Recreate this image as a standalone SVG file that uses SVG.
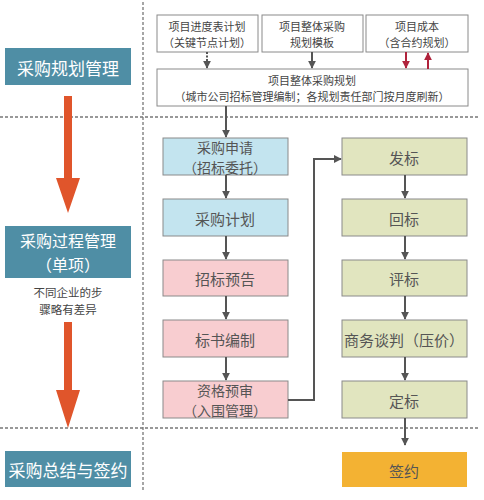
<svg xmlns="http://www.w3.org/2000/svg" width="484" height="500" viewBox="0 0 484 500">
<defs>
<style>
text{font-family:"Noto Sans CJK SC","Noto Sans",sans-serif;text-anchor:middle;dominant-baseline:central}
.sec rect{fill:#4f8ea5}
.sec text{fill:#fff;font-size:17px}
.top rect{fill:#fff;stroke:#8a8a8a;stroke-width:1}
.top text{fill:#444;font-size:11px}
.n rect{stroke:#8a8a8a;stroke-width:1}
.n text{fill:#555;font-size:15px}
.n text.s{font-size:14px}
.blue rect{fill:#c3e4ef}
.pink rect{fill:#f8cdd0}
.olive rect{fill:#e1e5bf}
.orange rect{fill:#f3b233;stroke:none}
.c line,.c polyline{stroke:#555;stroke-width:2;fill:none}
.dash{stroke:#777;stroke-width:1.3;stroke-dasharray:3,2;fill:none}
</style>
<marker id="ah" viewBox="0 0 10 10" refX="9" refY="5" markerWidth="4" markerHeight="4" orient="auto"><path d="M0,0L10,5L0,10z" fill="#555"/></marker>
<marker id="ahr" viewBox="0 0 10 10" refX="9" refY="5" markerWidth="4" markerHeight="4" orient="auto"><path d="M0,0L10,5L0,10z" fill="#b0233c"/></marker>
</defs>
<rect width="484" height="500" fill="#fff"/>
<g id="guides">
<line class="dash" x1="0" y1="117" x2="478" y2="117"/>
<line class="dash" x1="0" y1="428" x2="478" y2="428"/>
<line class="dash" x1="143" y1="2" x2="143" y2="490"/>
</g>
<g id="sec1" class="sec"><rect x="5" y="48" width="126" height="37"/><text x="68" y="67">采购规划管理</text></g>
<g id="sec2" class="sec"><rect x="5" y="226" width="126" height="52"/><text x="68" y="240" style="font-size:16px">采购过程管理</text><text x="68" y="264" style="font-size:16px">（单项）</text></g>
<g id="sec3" class="sec"><rect x="5" y="451" width="126" height="36"/><text x="68" y="469">采购总结与签约</text></g>
<g id="note"><text x="68" y="292" font-size="11.5" fill="#444">不同企业的步</text><text x="68" y="309" font-size="11.5" fill="#444">骤略有差异</text></g>
<g id="bigarrows" fill="#e0552b">
<path d="M64,96H72V178H80L68,213L56,178H64Z"/>
<path d="M64,322H72V390H80L68,428L56,390H64Z"/>
</g>
<g id="t1" class="top"><rect x="157" y="15" width="101" height="37"/><text x="207" y="25.5">项目进度表计划</text><text x="207" y="41.5">（关键节点计划）</text></g>
<g id="t2" class="top"><rect x="262" y="15" width="101" height="37"/><text x="312" y="25.5">项目整体采购</text><text x="312" y="41.5">规划模板</text></g>
<g id="t3" class="top"><rect x="366" y="15" width="102" height="37"/><text x="417" y="25.5">项目成本</text><text x="417" y="41.5">（含合约规划）</text></g>
<g id="t4" class="top"><rect x="157" y="69" width="311" height="37"/><text x="312" y="79.5">项目整体采购规划</text><text x="312" y="95.5">（城市公司招标管理编制；各规划责任部门按月度刷新）</text></g>
<g id="n1" class="n blue"><rect x="163" y="138" width="125" height="37"/><text class="s" x="225" y="146.5">采购申请</text><text class="s" x="225" y="166.5">（招标委托）</text></g>
<g id="n2" class="n blue"><rect x="163" y="199" width="125" height="37"/><text x="225" y="218">采购计划</text></g>
<g id="n3" class="n pink"><rect x="163" y="260" width="125" height="36"/><text x="225" y="278">招标预告</text></g>
<g id="n4" class="n pink"><rect x="163" y="320" width="125" height="37"/><text x="225" y="339">标书编制</text></g>
<g id="n5" class="n pink"><rect x="163" y="381" width="125" height="37"/><text class="s" x="225" y="389.5">资格预审</text><text class="s" x="225" y="409.5">（入围管理）</text></g>
<g id="m1" class="n olive"><rect x="342" y="138" width="125" height="37"/><text x="404" y="157">发标</text></g>
<g id="m2" class="n olive"><rect x="342" y="199" width="125" height="37"/><text x="404" y="218">回标</text></g>
<g id="m3" class="n olive"><rect x="342" y="260" width="125" height="36"/><text x="404" y="278">评标</text></g>
<g id="m4" class="n olive"><rect x="342" y="320" width="125" height="37"/><text x="404" y="339">商务谈判（压价）</text></g>
<g id="m5" class="n olive"><rect x="342" y="381" width="125" height="37"/><text x="404" y="400">定标</text></g>
<g id="m6" class="n orange"><rect x="342" y="452" width="125" height="35"/><text x="404" y="470">签约</text></g>
<g id="connectors" class="c">
<line x1="207" y1="52" x2="207" y2="68" stroke-dasharray="2,1.5" stroke-width="1.3" marker-end="url(#ah)"/>
<line x1="312" y1="52" x2="312" y2="68" marker-end="url(#ah)"/>
<line x1="406" y1="52" x2="406" y2="68" style="stroke:#b0233c" marker-end="url(#ahr)"/>
<line x1="428" y1="69" x2="428" y2="53" style="stroke:#b0233c" marker-end="url(#ahr)"/>
<line x1="226" y1="106" x2="226" y2="137" marker-end="url(#ah)"/>
<line x1="226" y1="175" x2="226" y2="198" marker-end="url(#ah)"/>
<line x1="226" y1="236" x2="226" y2="259" marker-end="url(#ah)"/>
<line x1="226" y1="296" x2="226" y2="319" marker-end="url(#ah)"/>
<line x1="226" y1="357" x2="226" y2="380" marker-end="url(#ah)"/>
<polyline points="288,400 314,400 314,159 341,159" marker-end="url(#ah)"/>
<line x1="405" y1="175" x2="405" y2="198" marker-end="url(#ah)"/>
<line x1="405" y1="236" x2="405" y2="259" marker-end="url(#ah)"/>
<line x1="405" y1="296" x2="405" y2="319" marker-end="url(#ah)"/>
<line x1="405" y1="357" x2="405" y2="380" marker-end="url(#ah)"/>
<line x1="405" y1="418" x2="405" y2="445" marker-end="url(#ah)"/>
</g>
</svg>
